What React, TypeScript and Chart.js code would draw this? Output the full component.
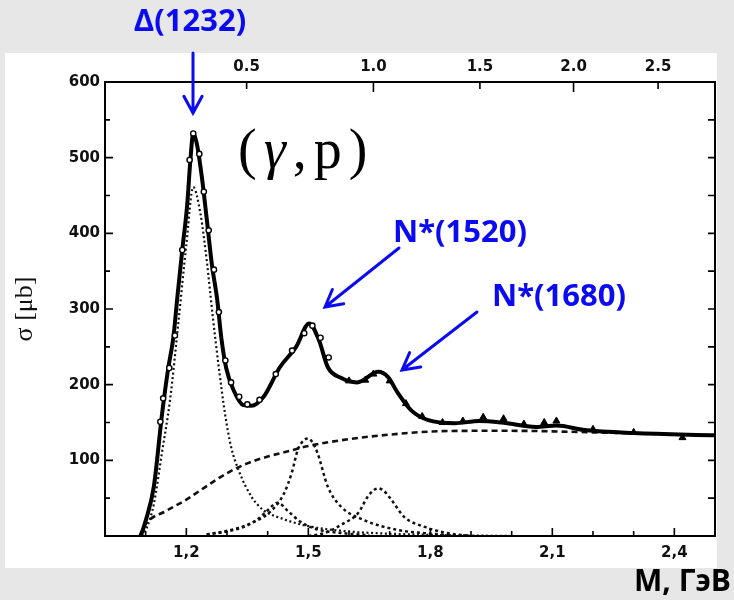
import React, { useEffect, useRef } from "react";
import { Chart, registerables } from "chart.js";

Chart.register(...registerables);

// ---------- data (invariant mass W in GeV, cross section in μb) ----------
const mainW = [1.088, 1.1, 1.12, 1.14, 1.155, 1.168, 1.178, 1.19, 1.202, 1.21, 1.217, 1.226, 1.238, 1.25, 1.263, 1.276, 1.286, 1.298, 1.316, 1.34, 1.36, 1.39, 1.43, 1.47, 1.502, 1.526, 1.548, 1.58, 1.62, 1.672, 1.696, 1.72, 1.753, 1.795, 1.86, 1.92, 1.975, 2.06, 2.11, 2.18, 2.3, 2.5];
const mainSigma = [0, 20, 65, 160, 220, 262, 316, 378, 437, 497, 532, 518, 475, 420, 358, 312, 262, 222, 193, 173, 172, 184, 223, 250, 281, 259, 223, 209, 203, 217, 210, 189, 166, 153, 149, 152, 150, 144, 146, 140, 136, 133];

const circleW = [1.136, 1.143, 1.158, 1.172, 1.19, 1.208, 1.217, 1.232, 1.243, 1.255, 1.268, 1.28, 1.296, 1.31, 1.33, 1.35, 1.38, 1.42, 1.46, 1.49, 1.51, 1.53, 1.55];
const circleSigma = [151, 182, 222, 265, 378, 497, 532, 505, 455, 404, 352, 296, 232, 203, 184, 174, 180, 214, 245, 268, 278, 262, 236];

const triangleW = [1.6, 1.64, 1.66, 1.7, 1.74, 1.78, 1.83, 1.88, 1.93, 1.98, 2.03, 2.08, 2.11, 2.2, 2.3, 2.42];
const triangleSigma = [205, 206, 214, 205, 175, 158, 150, 152, 157, 155, 148, 150, 152, 141, 137, 130];

const deltaW = [1.09, 1.105, 1.12, 1.14, 1.16, 1.18, 1.2, 1.217, 1.235, 1.25, 1.265, 1.28, 1.295, 1.31, 1.33, 1.36, 1.39, 1.43, 1.5, 1.6, 1.7, 1.85, 2.0];
const deltaSigma = [0, 14, 42, 110, 180, 280, 385, 461, 425, 365, 290, 222, 162, 118, 85, 52, 34, 24, 13, 6, 3, 1, 0];

const backgroundW = [1.085, 1.1, 1.15, 1.2, 1.25, 1.3, 1.35, 1.4, 1.45, 1.5, 1.6, 1.7, 1.8, 1.9, 2.0, 2.2, 2.5];
const backgroundSigma = [0, 16, 33, 48, 66, 83, 96, 105, 112, 119, 128, 134, 138, 139, 139, 137, 133];

const p11W = [1.25, 1.3, 1.35, 1.38, 1.4, 1.424, 1.45, 1.48, 1.52, 1.58, 1.65];
const p11Sigma = [2, 6, 14, 24, 34, 44, 33, 19, 9, 4, 1];

const n1520W = [1.25, 1.31, 1.36, 1.41, 1.44, 1.46, 1.474, 1.488, 1.499, 1.51, 1.523, 1.548, 1.58, 1.637, 1.72, 1.8, 1.9];
const n1520Sigma = [2, 8, 17, 34, 56, 85, 114, 126, 129, 124, 109, 65, 39, 21, 8, 3, 0];

const n1680W = [1.5, 1.54, 1.588, 1.622, 1.646, 1.662, 1.672, 1.685, 1.704, 1.736, 1.786, 1.84, 1.9];
const n1680Sigma = [0, 4, 17, 30, 52, 61, 63, 60, 48, 25, 12, 4, 0];

// ---------- axes ----------
const xLabelValues = [1.2, 1.5, 1.8, 2.1, 2.4];
const xLabels = ["1,2", "1,5", "1,8", "2,1", "2,4"];
const xMinorValues = [1.1, 1.3, 1.4, 1.6, 1.7, 1.9, 2.0, 2.2, 2.3];
const yLabelValues = [100, 200, 300, 400, 500, 600];
const yMinorValues = [50, 150, 250, 350, 450, 550];
const topEnergies = [0.5, 1.0, 1.5, 2.0, 2.5];
const topLabels = ["0.5", "1.0", "1.5", "2.0", "2.5"];
const PROTON_MASS = 0.938;
const topTickW = topEnergies.map((e) => Math.sqrt(PROTON_MASS * PROTON_MASS + 2 * PROTON_MASS * e));

const pts = (xs: number[], ys: number[]) => xs.map((x, i) => ({ x, y: ys[i] }));

const BLUE = "#0b0bf2";

function arrow(ctx: CanvasRenderingContext2D, x1: number, y1: number, x2: number, y2: number) {
  const ang = Math.atan2(y2 - y1, x2 - x1);
  const head = 19;
  const spread = 0.5;
  ctx.beginPath();
  ctx.moveTo(x1, y1);
  ctx.lineTo(x2, y2);
  ctx.moveTo(x2 - head * Math.cos(ang - spread), y2 - head * Math.sin(ang - spread));
  ctx.lineTo(x2, y2);
  ctx.lineTo(x2 - head * Math.cos(ang + spread), y2 - head * Math.sin(ang + spread));
  ctx.stroke();
}

const decorPlugin = {
  id: "decor",
  beforeDraw(chart: any) {
    const ctx = chart.ctx as CanvasRenderingContext2D;
    ctx.save();
    ctx.fillStyle = "#e7e7e7";
    ctx.fillRect(0, 0, chart.width, chart.height);
    ctx.fillStyle = "#ffffff";
    ctx.fillRect(5, 53, 712, 515);
    ctx.restore();
  },
  afterDraw(chart: any) {
    const ctx = chart.ctx as CanvasRenderingContext2D;
    const { left, right, top, bottom } = chart.chartArea;
    const xs = chart.scales.x;
    const ys = chart.scales.y;
    const xt = chart.scales.x2;
    ctx.save();
    ctx.strokeStyle = "#000";
    ctx.lineWidth = 2;
    ctx.strokeRect(left, top, right - left, bottom - top);
    ctx.lineWidth = 1.6;
    ctx.beginPath();
    xLabelValues.forEach((v) => {
      const p = xs.getPixelForValue(v);
      ctx.moveTo(p, bottom);
      ctx.lineTo(p, bottom - 8);
    });
    xMinorValues.forEach((v) => {
      const p = xs.getPixelForValue(v);
      ctx.moveTo(p, bottom);
      ctx.lineTo(p, bottom - 5);
    });
    topTickW.forEach((v, i) => {
      const p = xt.getPixelForValue(v);
      ctx.moveTo(p, top);
      ctx.lineTo(p, top + (i % 2 === 1 ? 10 : 7));
    });
    yLabelValues.forEach((v) => {
      const p = ys.getPixelForValue(v);
      ctx.moveTo(left, p);
      ctx.lineTo(left + 8, p);
      ctx.moveTo(right, p);
      ctx.lineTo(right - 7, p);
    });
    yMinorValues.forEach((v) => {
      const p = ys.getPixelForValue(v);
      ctx.moveTo(left, p);
      ctx.lineTo(left + 5, p);
      ctx.moveTo(right, p);
      ctx.lineTo(right - 7, p);
    });
    ctx.stroke();

    // (γ,p) label
    ctx.fillStyle = "#000";
    ctx.textBaseline = "alphabetic";
    ctx.textAlign = "left";
    const parts = [
      { t: "(", f: "56px 'Liberation Serif'" },
      { t: "γ", f: "italic 56px 'Liberation Serif'" },
      { t: ",", f: "56px 'Liberation Serif'" },
      { t: "p", f: "56px 'Liberation Serif'" },
      { t: ")", f: "56px 'Liberation Serif'" },
    ];
    let cx = 238;
    parts.forEach((p) => {
      ctx.font = p.f;
      ctx.fillText(p.t, cx, 168);
      cx += ctx.measureText(p.t).width + 7;
    });

    // blue annotations
    ctx.fillStyle = BLUE;
    ctx.strokeStyle = BLUE;
    ctx.lineWidth = 3;
    ctx.lineCap = "round";
    ctx.font = "bold 31px 'Open Sans'";
    ctx.textBaseline = "middle";
    ctx.textAlign = "center";
    ctx.fillText("Δ(1232)", 190, 22);
    ctx.textAlign = "left";
    ctx.fillText("N*(1520)", 393, 233);
    ctx.fillText("N*(1680)", 492, 297);
    arrow(ctx, 193, 53, 193, 113);
    arrow(ctx, 399, 248, 325, 307);
    arrow(ctx, 477, 312, 402, 370);

    // axis title (bottom right)
    ctx.fillStyle = "#000";
    ctx.font = "bold 30px 'Open Sans'";
    ctx.textAlign = "right";
    ctx.fillText("M, ГэВ", 731, 582);
    ctx.restore();
  },
};

export default function App() {
  const ref = useRef<HTMLCanvasElement | null>(null);
  useEffect(() => {
    if (!ref.current) return;
    const tickFont = { family: "'DejaVu Sans'", size: 15, weight: "bold" as const };
    const chart = new Chart(ref.current, {
      type: "line",
      data: {
        datasets: [
          { label: "background", data: pts(backgroundW, backgroundSigma), borderColor: "#111", borderWidth: 2.6, borderDash: [6, 4], pointRadius: 0, cubicInterpolationMode: "monotone", order: 5 },
          { label: "Δ(1232)", data: pts(deltaW, deltaSigma), borderColor: "#111", borderWidth: 2.2, borderDash: [2, 2.6], pointRadius: 0, cubicInterpolationMode: "monotone", order: 5 },
          { label: "P11", data: pts(p11W, p11Sigma), borderColor: "#111", borderWidth: 2.5, borderDash: [3, 3], pointRadius: 0, cubicInterpolationMode: "monotone", order: 5 },
          { label: "N*(1520)", data: pts(n1520W, n1520Sigma), borderColor: "#111", borderWidth: 2.5, borderDash: [3, 3], pointRadius: 0, cubicInterpolationMode: "monotone", order: 5 },
          { label: "N*(1680)", data: pts(n1680W, n1680Sigma), borderColor: "#111", borderWidth: 2.5, borderDash: [3, 3], pointRadius: 0, cubicInterpolationMode: "monotone", order: 5 },
          { label: "fit", data: pts(mainW, mainSigma), borderColor: "#000", borderWidth: 4, pointRadius: 0, cubicInterpolationMode: "monotone", order: 2 },
          { label: "data1", data: pts(circleW, circleSigma), showLine: false, pointStyle: "circle", pointRadius: 2.6, pointBackgroundColor: "#fff", pointBorderColor: "#000", pointBorderWidth: 1.4, order: 1 },
          { label: "data2", data: pts(triangleW, triangleSigma), showLine: false, pointStyle: "triangle", pointRadius: 4, pointBackgroundColor: "#000", pointBorderColor: "#000", pointBorderWidth: 1, order: 1 },
        ],
      },
      options: {
        responsive: false,
        animation: false,
        devicePixelRatio: 1,
        layout: { padding: { left: 0, right: 19, top: 0, bottom: 0 } },
        plugins: { legend: { display: false }, tooltip: { enabled: false } },
        scales: {
          x: {
            type: "linear",
            position: "bottom",
            min: 1.0,
            max: 2.5,
            grid: { display: false, drawTicks: false },
            border: { display: false },
            afterBuildTicks: (s: any) => {
              s.ticks = xLabelValues.map((v) => ({ value: v }));
            },
            afterFit: (s: any) => {
              s.height = 64;
            },
            ticks: {
              autoSkip: false,
              maxRotation: 0,
              padding: 8,
              color: "#111",
              font: tickFont,
              callback: (_v: any, i: number) => xLabels[i],
            },
          },
          x2: {
            type: "linear",
            position: "top",
            min: 1.0,
            max: 2.5,
            grid: { display: false, drawTicks: false },
            border: { display: false },
            afterBuildTicks: (s: any) => {
              s.ticks = topTickW.map((v) => ({ value: v }));
            },
            afterFit: (s: any) => {
              s.height = 82;
            },
            ticks: {
              autoSkip: false,
              maxRotation: 0,
              padding: 6,
              color: "#111",
              font: tickFont,
              callback: (_v: any, i: number) => topLabels[i],
            },
          },
          y: {
            type: "linear",
            min: 0,
            max: 600,
            grid: { display: false, drawTicks: false },
            border: { display: false },
            afterBuildTicks: (s: any) => {
              s.ticks = yLabelValues.map((v) => ({ value: v }));
            },
            afterFit: (s: any) => {
              s.width = 105;
            },
            ticks: {
              padding: 5,
              color: "#111",
              font: tickFont,
              callback: (v: any) => String(v),
            },
            title: {
              display: true,
              text: "σ [μb]",
              color: "#111",
              font: { family: "'Liberation Serif'", size: 26 },
              padding: { top: 10, bottom: 0 },
            },
          },
        },
      },
      plugins: [decorPlugin],
    } as any);
    return () => chart.destroy();
  }, []);
  return (
    <div style={{ position: "absolute", left: 0, top: 0, width: 734, height: 600 }}>
      <canvas ref={ref} width={734} height={600} style={{ display: "block" }} />
    </div>
  );
}
